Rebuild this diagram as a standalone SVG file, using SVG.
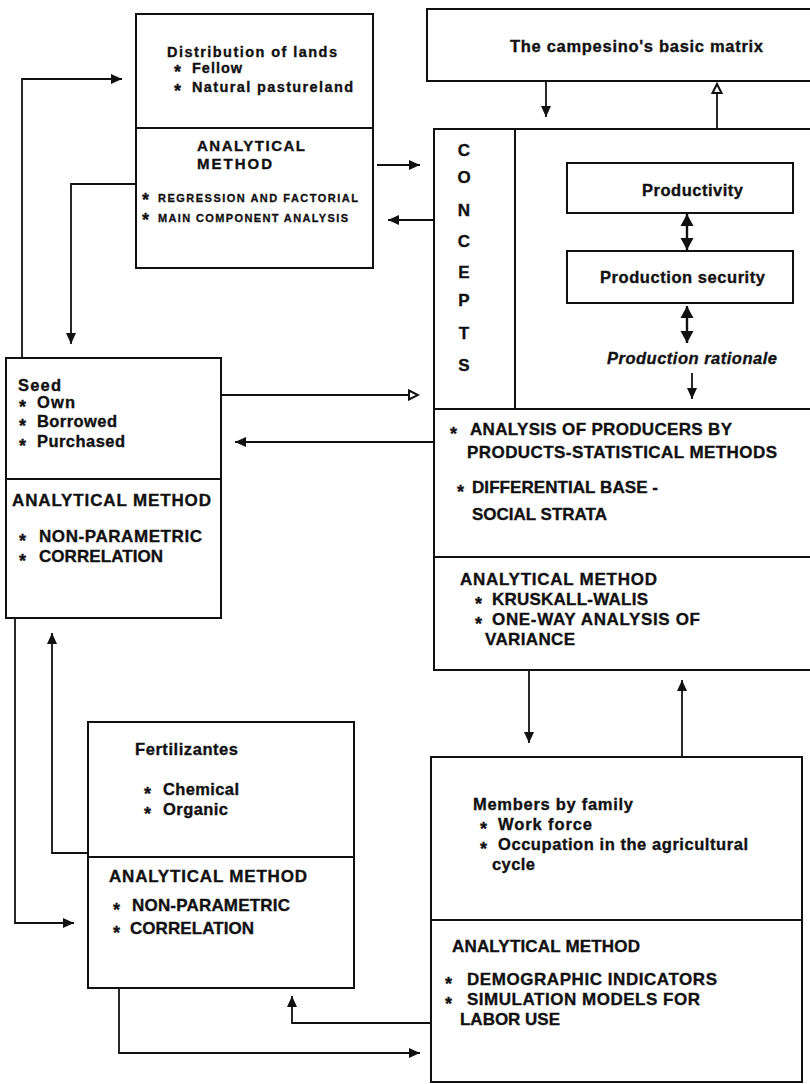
<svg xmlns="http://www.w3.org/2000/svg" width="810" height="1084" viewBox="0 0 810 1084">
  <style>
    .box { fill: #fff; stroke: #111; stroke-width: 2; }
    .div { stroke: #111; stroke-width: 2; fill: none; }
    .wire { stroke: #111; stroke-width: 1.8; fill: none; }
    .dbl { stroke: #111; stroke-width: 2.4; fill: none; }
    text { font-family: "Liberation Sans", Arial, sans-serif; font-weight: bold; fill: #111; stroke: #111; stroke-width: 0.35; }
    .t { font-size: 16.5px; }
    .tn { font-size: 14.5px; }
    .c { font-size: 17px; }
    .cn { font-size: 15px; }
    .s { font-size: 11px; stroke-width: 0.3; }
    .b { font-size: 18px; }
    .it { font-style: italic; }
    .mid { text-anchor: middle; }
  </style>
  <defs>
    <marker id="arr" markerUnits="userSpaceOnUse" markerWidth="12" markerHeight="12" refX="11" refY="6" orient="auto-start-reverse">
      <path d="M0,1 L11,6 L0,11 z" fill="#111"/>
    </marker>
    <marker id="arrBig" markerUnits="userSpaceOnUse" markerWidth="14" markerHeight="14" refX="12" refY="7" orient="auto-start-reverse">
      <path d="M0,0.5 L12,7 L0,13.5 z" fill="#111"/>
    </marker>
    <marker id="arrOpen" markerUnits="userSpaceOnUse" markerWidth="12" markerHeight="12" refX="10" refY="6" orient="auto">
      <path d="M1,1.5 L10,6 L1,10.5 z" fill="#fff" stroke="#111" stroke-width="2"/>
    </marker>
  </defs>

  <rect width="810" height="1084" fill="#fff"/>

  <!-- land distribution -->
  <g id="lands">
    <rect class="box" x="136" y="14" width="237" height="254"/>
    <line class="div" x1="136" y1="128" x2="373" y2="128"/>
    <text class="tn" x="167" y="57" textLength="170">Distribution of lands</text>
    <text class="b" x="174" y="78">*</text>
    <text class="tn" x="192" y="73" textLength="50">Fellow</text>
    <text class="b" x="174" y="97">*</text>
    <text class="tn" x="192" y="92" textLength="161">Natural pastureland</text>
    <text class="cn" x="197" y="151" textLength="108">ANALYTICAL</text>
    <text class="cn" x="197" y="169" textLength="75">METHOD</text>
    <text class="b" x="142" y="206">*</text>
    <text class="s" x="158" y="202" textLength="200">REGRESSION AND FACTORIAL</text>
    <text class="b" x="142" y="226">*</text>
    <text class="s" x="158" y="222" textLength="190">MAIN COMPONENT ANALYSIS</text>
  </g>

  <!-- basic matrix -->
  <g id="matrix">
    <rect class="box" x="427" y="9" width="386" height="72"/>
    <text class="t" x="510" y="52" textLength="253">The campesino's basic matrix</text>
  </g>

  <!-- concepts -->
  <g id="concepts">
    <rect class="box" x="434" y="129" width="379" height="541"/>
    <line class="div" x1="515" y1="129" x2="515" y2="409"/>
    <line class="div" x1="434" y1="409" x2="813" y2="409"/>
    <line class="div" x1="434" y1="557" x2="813" y2="557"/>
    <text class="c mid" x="464" y="156">C</text>
    <text class="c mid" x="464" y="183">O</text>
    <text class="c mid" x="464" y="216">N</text>
    <text class="c mid" x="464" y="247">C</text>
    <text class="c mid" x="464" y="278">E</text>
    <text class="c mid" x="464" y="306">P</text>
    <text class="c mid" x="464" y="339">T</text>
    <text class="c mid" x="464" y="371">S</text>
    <text class="t it" x="607" y="364" textLength="170">Production rationale</text>
    <text class="b" x="450" y="440">*</text>
    <text class="c" x="470" y="435" textLength="262">ANALYSIS OF PRODUCERS BY</text>
    <text class="c" x="467" y="458" textLength="310">PRODUCTS-STATISTICAL METHODS</text>
    <text class="b" x="457" y="498">*</text>
    <text class="c" x="472" y="493" textLength="186">DIFFERENTIAL BASE -</text>
    <text class="c" x="472" y="520" textLength="135">SOCIAL STRATA</text>
    <text class="c" x="460" y="585" textLength="197">ANALYTICAL METHOD</text>
    <text class="b" x="475" y="610">*</text>
    <text class="c" x="492" y="605" textLength="156">KRUSKALL-WALIS</text>
    <text class="b" x="475" y="630">*</text>
    <text class="c" x="492" y="625" textLength="208">ONE-WAY ANALYSIS OF</text>
    <text class="c" x="485" y="645" textLength="90">VARIANCE</text>
  </g>

  <g id="productivity">
    <rect class="box" x="567" y="163" width="226" height="50"/>
    <text class="t" x="642" y="196" textLength="101">Productivity</text>
  </g>

  <g id="security">
    <rect class="box" x="567" y="251" width="226" height="52"/>
    <text class="t" x="600" y="283" textLength="165">Production security</text>
  </g>

  <!-- seed -->
  <g id="seed">
    <rect class="box" x="6" y="358" width="215" height="260"/>
    <line class="div" x1="6" y1="479" x2="221" y2="479"/>
    <text class="t" x="18" y="391" textLength="43">Seed</text>
    <text class="b" x="19" y="413">*</text>
    <text class="t" x="37" y="408" textLength="38">Own</text>
    <text class="b" x="19" y="432">*</text>
    <text class="t" x="37" y="427" textLength="80">Borrowed</text>
    <text class="b" x="19" y="452">*</text>
    <text class="t" x="37" y="447" textLength="88">Purchased</text>
    <text class="c" x="12" y="506" textLength="199">ANALYTICAL METHOD</text>
    <text class="b" x="19" y="547">*</text>
    <text class="c" x="39" y="542" textLength="163">NON-PARAMETRIC</text>
    <text class="b" x="19" y="567">*</text>
    <text class="c" x="39" y="562" textLength="124">CORRELATION</text>
  </g>

  <!-- fertilizers -->
  <g id="fertilizers">
    <rect class="box" x="88" y="722" width="266" height="266"/>
    <line class="div" x1="88" y1="857" x2="354" y2="857"/>
    <text class="t" x="135" y="755" textLength="103">Fertilizantes</text>
    <text class="b" x="144" y="800">*</text>
    <text class="t" x="163" y="795" textLength="76">Chemical</text>
    <text class="b" x="144" y="820">*</text>
    <text class="t" x="163" y="815" textLength="65">Organic</text>
    <text class="c" x="109" y="882" textLength="198">ANALYTICAL METHOD</text>
    <text class="b" x="113" y="916">*</text>
    <text class="c" x="132" y="911" textLength="158">NON-PARAMETRIC</text>
    <text class="b" x="113" y="939">*</text>
    <text class="c" x="130" y="934" textLength="124">CORRELATION</text>
  </g>

  <!-- family members -->
  <g id="family">
    <rect class="box" x="431" y="757" width="371" height="325"/>
    <line class="div" x1="431" y1="920" x2="802" y2="920"/>
    <text class="t" x="473" y="810" textLength="160">Members by family</text>
    <text class="b" x="480" y="835">*</text>
    <text class="t" x="498" y="830" textLength="94">Work force</text>
    <text class="b" x="480" y="855">*</text>
    <text class="t" x="498" y="850" textLength="250">Occupation in the agricultural</text>
    <text class="t" x="492" y="870" textLength="43">cycle</text>
    <text class="c" x="452" y="952" textLength="188">ANALYTICAL METHOD</text>
    <text class="b" x="445" y="990">*</text>
    <text class="c" x="467" y="985" textLength="250">DEMOGRAPHIC INDICATORS</text>
    <text class="b" x="445" y="1010">*</text>
    <text class="c" x="467" y="1005" textLength="233">SIMULATION MODELS FOR</text>
    <text class="c" x="460" y="1025" textLength="100">LABOR USE</text>
  </g>

  <!-- connectors -->
  <g id="connectors">
    <path class="wire" d="M22,358 V79 H122" marker-end="url(#arr)"/>
    <path class="wire" d="M136,184 H71 V344" marker-end="url(#arr)"/>
    <path class="wire" d="M377,165 H420" marker-end="url(#arr)"/>
    <path class="wire" d="M434,220 H388" marker-end="url(#arr)"/>
    <path class="wire" d="M546,81 V117" marker-end="url(#arr)"/>
    <path class="wire" d="M717,128 V84" marker-end="url(#arrOpen)"/>
    <path class="dbl" d="M687,214 V250" marker-start="url(#arrBig)" marker-end="url(#arrBig)"/>
    <path class="dbl" d="M687,306 V343" marker-start="url(#arrBig)" marker-end="url(#arrBig)"/>
    <path class="wire" d="M692,373 V399" marker-end="url(#arr)"/>
    <path class="wire" d="M222,395 H418" marker-end="url(#arrOpen)"/>
    <path class="wire" d="M433,442 H235" marker-end="url(#arr)"/>
    <path class="wire" d="M15,619 V923 H74" marker-end="url(#arr)"/>
    <path class="wire" d="M87,853 H52 V633" marker-end="url(#arr)"/>
    <path class="wire" d="M119,989 V1053 H420" marker-end="url(#arr)"/>
    <path class="wire" d="M430,1023 H292 V996" marker-end="url(#arr)"/>
    <path class="wire" d="M529,671 V743" marker-end="url(#arr)"/>
    <path class="wire" d="M682,756 V680" marker-end="url(#arr)"/>
  </g>
</svg>
